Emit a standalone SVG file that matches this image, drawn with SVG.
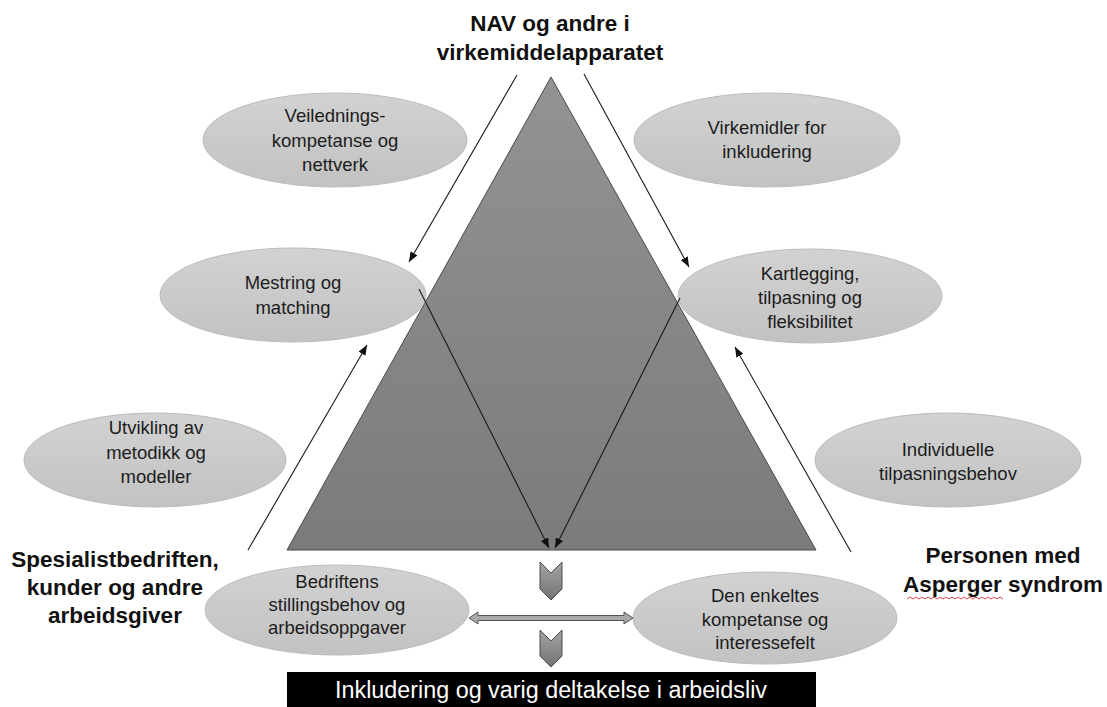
<svg xmlns="http://www.w3.org/2000/svg" width="1107" height="707" viewBox="0 0 1107 707">
  <defs>
    <linearGradient id="triGrad" x1="0" y1="0" x2="0" y2="1">
      <stop offset="0" stop-color="#939393"/>
      <stop offset="1" stop-color="#7b7b7b"/>
    </linearGradient>
    <linearGradient id="ellGrad" x1="0" y1="0" x2="0" y2="1">
      <stop offset="0" stop-color="#d2d2d2"/>
      <stop offset="1" stop-color="#c2c2c2"/>
    </linearGradient>
    <linearGradient id="chevGrad" x1="0" y1="0" x2="0" y2="1">
      <stop offset="0" stop-color="#a4a4a4"/>
      <stop offset="1" stop-color="#737373"/>
    </linearGradient>
    <marker id="ah" viewBox="0 0 10 8" refX="10" refY="4" markerWidth="10" markerHeight="8" markerUnits="userSpaceOnUse" orient="auto">
      <path d="M0,0 L10,4 L0,8 z" fill="#111"/>
    </marker>
  </defs>
  <style>
    .ell { fill: url(#ellGrad); stroke: #bcbcbd; stroke-width: 1; }
    .et { font-family: "Liberation Sans", Arial, sans-serif; font-size: 18.5px; fill: #1c1c1c; text-anchor: middle; }
    .lbl { font-family: "Liberation Sans", Arial, sans-serif; font-size: 22.5px; font-weight: bold; fill: #111; text-anchor: middle; }
    .con { stroke: #1a1a1a; stroke-width: 1.1; fill: none; marker-end: url(#ah); }
    .chev { fill: url(#chevGrad); stroke: #4d4d4d; stroke-width: 1; }
  </style>
  <rect width="1107" height="707" fill="#ffffff"/>

  <g id="triangle">
    <polygon points="551,77 287,550 816,550" fill="url(#triGrad)" stroke="#4a4a4a" stroke-width="1"/>
  </g>

  <g id="title-nav">
    <text class="lbl" x="550" y="31">NAV og andre i</text>
    <text class="lbl" x="550" y="60">virkemiddelapparatet</text>
  </g>
  <g id="label-spesialist">
    <text class="lbl" x="115" y="567">Spesialistbedriften,</text>
    <text class="lbl" x="115" y="595">kunder og andre</text>
    <text class="lbl" x="115" y="623">arbeidsgiver</text>
  </g>
  <g id="label-personen">
    <text class="lbl" x="1003" y="563">Personen med</text>
    <text class="lbl" x="1003" y="592">Asperger syndrom</text>
    <path d="M907 599 l3 -2 3 2 3 -2 3 2 3 -2 3 2 3 -2 3 2 3 -2 3 2 3 -2 3 2 3 -2 3 2 3 -2 3 2 3 -2 3 2 3 -2 3 2 3 -2 3 2 3 -2 3 2 3 -2 3 2 3 -2 3 2 3 -2 3 2 3 -2 3 2" fill="none" stroke="#d03030" stroke-width="0.9"/>
  </g>

  <g id="n-veiledning">
    <ellipse class="ell" cx="335" cy="140" rx="132" ry="47"/>
    <text class="et" x="335" y="122">Veilednings-</text>
    <text class="et" x="335" y="147">kompetanse og</text>
    <text class="et" x="335" y="171">nettverk</text>
  </g>
  <g id="n-virkemidler">
    <ellipse class="ell" cx="767" cy="140" rx="133" ry="47"/>
    <text class="et" x="767" y="134">Virkemidler for</text>
    <text class="et" x="767" y="158">inkludering</text>
  </g>
  <g id="n-mestring">
    <ellipse class="ell" cx="293" cy="295" rx="133" ry="47"/>
    <text class="et" x="293" y="289">Mestring og</text>
    <text class="et" x="293" y="314">matching</text>
  </g>
  <g id="n-kartlegging">
    <ellipse class="ell" cx="810" cy="296" rx="132" ry="47"/>
    <text class="et" x="810" y="280">Kartlegging,</text>
    <text class="et" x="810" y="304">tilpasning og</text>
    <text class="et" x="810" y="328">fleksibilitet</text>
  </g>
  <g id="n-utvikling">
    <ellipse class="ell" cx="155" cy="460" rx="131" ry="47"/>
    <text class="et" x="156" y="434">Utvikling av</text>
    <text class="et" x="156" y="459">metodikk og</text>
    <text class="et" x="156" y="483">modeller</text>
  </g>
  <g id="n-individuelle">
    <ellipse class="ell" cx="948" cy="460" rx="133" ry="47"/>
    <text class="et" x="948" y="456">Individuelle</text>
    <text class="et" x="948" y="480">tilpasningsbehov</text>
  </g>
  <g id="n-bedriftens">
    <ellipse class="ell" cx="337" cy="610" rx="132" ry="45"/>
    <text class="et" x="337" y="588">Bedriftens</text>
    <text class="et" x="337" y="611">stillingsbehov og</text>
    <text class="et" x="337" y="634">arbeidsoppgaver</text>
  </g>
  <g id="n-enkeltes">
    <ellipse class="ell" cx="765" cy="618" rx="132" ry="46"/>
    <text class="et" x="765" y="602">Den enkeltes</text>
    <text class="et" x="765" y="626">kompetanse og</text>
    <text class="et" x="765" y="649">interessefelt</text>
  </g>

  <g id="connectors">
    <line class="con" x1="517" y1="75" x2="409" y2="262"/>
    <line class="con" x1="584" y1="74" x2="689" y2="267"/>
    <line class="con" x1="248" y1="550" x2="367" y2="345"/>
    <line class="con" x1="851" y1="552" x2="735" y2="347"/>
    <line class="con" x1="419" y1="289" x2="549" y2="548"/>
    <line class="con" x1="680" y1="298" x2="555" y2="548"/>
    <polygon points="469,618 478,612 478,615.5 624,615.5 624,612 633,618 624,624 624,620.5 478,620.5 478,624" fill="#a9a9a9" stroke="#555" stroke-width="1"/>
    <polygon class="chev" points="540,562 551,573 562,562 562,589 551,600 540,589"/>
    <polygon class="chev" points="540,630 551,641 562,630 562,656 551,667 540,656"/>
  </g>

  <g id="n-result">
    <rect x="287" y="672" width="529" height="35" fill="#000"/>
    <text x="551" y="698" font-family="'Liberation Sans', Arial, sans-serif" font-size="23" fill="#ffffff" text-anchor="middle" textLength="432" lengthAdjust="spacingAndGlyphs">Inkludering og varig deltakelse i arbeidsliv</text>
  </g>
</svg>
